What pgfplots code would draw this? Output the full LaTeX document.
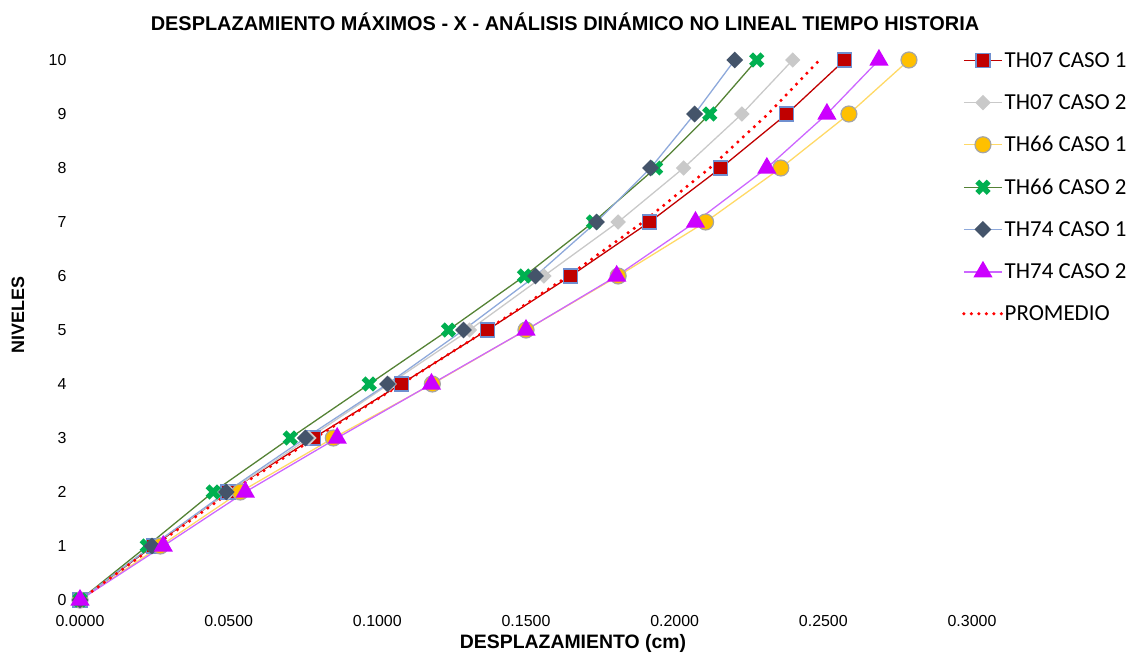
\documentclass[border=0pt]{standalone}
\usepackage{pgfplots}
\pgfplotsset{compat=1.18}
\usepackage{fontspec}
\setmainfont{Liberation Sans}
\newfontfamily\legfont{Carlito}

\definecolor{rojo}{HTML}{C00000}
\definecolor{borde}{HTML}{6F8FCF}
\definecolor{gris}{HTML}{C9C9C9}
\definecolor{naranja}{HTML}{FFC000}
\definecolor{naranjaline}{HTML}{FFD966}
\definecolor{grisborde}{HTML}{A5A5A5}
\definecolor{verde}{HTML}{00B050}
\definecolor{verdeline}{HTML}{548235}
\definecolor{azuloscuro}{HTML}{44546A}
\definecolor{azulline}{HTML}{8EA9DB}
\definecolor{magenta}{HTML}{CC00FF}
\definecolor{magline}{HTML}{CC66FF}

\begin{document}
\begin{tikzpicture}
\useasboundingbox (-80bp,-54bp) rectangle (1050bp,600bp);
\begin{axis}[
    scale only axis,
    width=892bp, height=540bp,
    xmin=0, xmax=0.3,
    ymin=0, ymax=10,
    clip=false,
    axis line style={draw=none},
    major tick length=0pt,
    xtick={0,0.05,0.1,0.15,0.2,0.25,0.3},
    ytick={0,1,2,3,4,5,6,7,8,9,10},
    scaled x ticks=false,
    xticklabel={\pgfmathprintnumber[fixed,fixed zerofill,precision=4]{\tick}},
    /pgf/number format/assume math mode=true,
    tick label style={font=\fontsize{16}{16}\selectfont},
    xticklabel style={yshift=-12bp},
    yticklabel style={xshift=-10bp},
    legend cell align=left,
    legend image code/.code={
        \draw[mark repeat=2,mark phase=2,#1] plot coordinates {(0bp,0bp) (19bp,0bp) (38bp,0bp)};
    },
    legend style={
        draw=none, fill=none,
        at={(rel axis cs:0.9888,1.016)}, anchor=north west,
        font=\legfont\fontsize{23}{23}\selectfont,
        row sep=23.5bp,
        inner sep=0pt,
        nodes={inner sep=1bp},
    },
]
% TH07 CASO 1
\addplot[rojo, line width=1.3pt, mark=square*, mark size=7bp,
    mark options={fill=rojo, draw=borde, line width=1.2pt}]
    coordinates {(0,0) (0.0246,1) (0.0498,2) (0.0785,3) (0.1080,4) (0.1370,5)
                 (0.1650,6) (0.1916,7) (0.2155,8) (0.2377,9) (0.2572,10)};
\addlegendentry{TH07 CASO 1}
% TH07 CASO 2
\addplot[gris, line width=1.3pt, mark=square*, mark size=4.8bp,
    mark options={fill=gris, draw=gris, rotate=45}]
    coordinates {(0,0) (0.0240,1) (0.0500,2) (0.0770,3) (0.1040,4) (0.1310,5)
                 (0.1560,6) (0.1810,7) (0.2030,8) (0.2226,9) (0.2397,10)};
\addlegendentry{TH07 CASO 2}
% TH66 CASO 1
\addplot[naranjaline, line width=1.3pt, mark=*, mark size=8bp,
    mark options={fill=naranja, draw=grisborde, line width=1.2pt}]
    coordinates {(0,0) (0.0270,1) (0.0539,2) (0.0852,3) (0.1185,4) (0.1500,5)
                 (0.1810,6) (0.2104,7) (0.2357,8) (0.2586,9) (0.2788,10)};
\addlegendentry{TH66 CASO 1}
% TH66 CASO 2
\addplot[verdeline, line width=1.3pt, mark=x, mark size=8bp,
    mark options={draw=verde, line width=5.5bp}]
    coordinates {(0,0) (0.0226,1) (0.0448,2) (0.0707,3) (0.0973,4) (0.1239,5)
                 (0.1495,6) (0.1727,7) (0.1936,8) (0.2118,9) (0.2276,10)};
\addlegendentry{TH66 CASO 2}
% TH74 CASO 1
\addplot[azulline, line width=1.3pt, mark=square*, mark size=5.3bp,
    mark options={fill=azuloscuro, draw=azuloscuro, rotate=45}]
    coordinates {(0,0) (0.0242,1) (0.0492,2) (0.0758,3) (0.1034,4) (0.1290,5)
                 (0.1532,6) (0.1737,7) (0.1919,8) (0.2067,9) (0.2202,10)};
\addlegendentry{TH74 CASO 1}
% TH74 CASO 2
\addplot[magline, line width=1.3pt, mark=triangle*, mark size=9.8bp,
    mark options={fill=magenta, draw=magenta}]
    coordinates {(0,0) (0.0280,1) (0.0556,2) (0.0865,3) (0.1182,4) (0.1500,5)
                 (0.1805,6) (0.2070,7) (0.2310,8) (0.2512,9) (0.2687,10)};
\addlegendentry{TH74 CASO 2}
% PROMEDIO
\addplot[red, line width=3.5bp, line cap=round, dash pattern=on 0bp off 7.5bp, mark=none]
    coordinates {(0,0) (0.0251,1) (0.0506,2) (0.0790,3) (0.1082,4) (0.1368,5)
                 (0.1642,6) (0.1894,7) (0.2118,8) (0.2314,9) (0.2487,10)};
\addlegendentry{PROMEDIO}
\end{axis}
\node[font=\bfseries\fontsize{20}{20}\selectfont] at (485bp,578bp)
    {DESPLAZAMIENTO MÁXIMOS - X - ANÁLISIS DINÁMICO NO LINEAL TIEMPO HISTORIA};
\node[font=\bfseries\fontsize{19.5}{19.5}\selectfont] at (493bp,-43bp) {DESPLAZAMIENTO (cm)};
\node[font=\bfseries\fontsize{18}{18}\selectfont, rotate=90] at (-62bp,285bp) {NIVELES};
\end{tikzpicture}
\end{document}
